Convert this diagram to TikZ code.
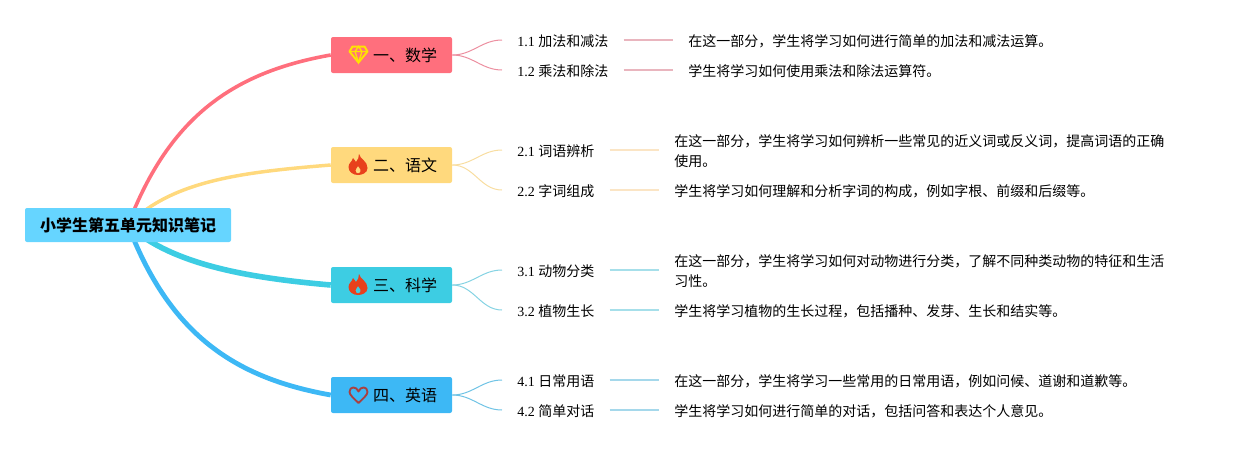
\documentclass[tikz,border=0pt]{standalone}
\usepackage{fontspec}
\usepackage{tikz}
\usetikzlibrary{backgrounds}
\setmainfont{Liberation Serif}
\newfontfamily\cjk{Noto Sans CJK SC}

\definecolor{redbox}{HTML}{FF6F7D}
\definecolor{yellowbox}{HTML}{FFD97D}
\definecolor{tealbox}{HTML}{3DCDE3}
\definecolor{bluebox}{HTML}{3DB8F5}
\definecolor{rootbox}{HTML}{66D5FF}
\definecolor{flamered}{HTML}{E8401C}
\definecolor{redtwig}{HTML}{EC8FA0}
\definecolor{yellowtwig}{HTML}{F8DDA0}
\definecolor{tealtwig}{HTML}{85D3E3}
\definecolor{bluetwig}{HTML}{6FC3E5}
\definecolor{redline}{HTML}{E9B5BE}
\definecolor{yellowline}{HTML}{FBE5C5}
\definecolor{tealline}{HTML}{A6DFEA}
\definecolor{blueline}{HTML}{A5D8EB}

\tikzset{
    rootnode/.style={fill=rootbox, rounded corners=1.5pt, minimum width=154.5pt, minimum height=25.5pt, inner sep=0pt, text height=11.3pt, text depth=1pt, font=\fontsize{12pt}{14pt}\cjk\bfseries},
    topic/.style={fill=#1, rounded corners=1.5pt, minimum width=90.75pt, minimum height=27pt, inner sep=0pt, text height=11.3pt, text depth=1pt, font=\fontsize{12pt}{14pt}\cjk},
    leaftwo/.style={anchor=west, inner xsep=11.25pt, inner ysep=0pt, font=\fontsize{10.5pt}{15pt}\selectfont, align=left},
    leaf/.style={leaftwo, text height=10.3pt, text depth=1pt},
    twig/.style={draw=#1, line width=0.75pt},
    rule line/.style={draw=#1, line width=1.5pt},
    gemicon/.pic={
        \draw[draw=#1, line width=1.5pt, line join=round] (-6,-8) -- (6,-8) -- (9,-3) -- (0,8) -- (-9,-3) -- cycle;
        \draw[draw=#1, line width=1pt] (-9,-3) -- (9,-3) (-3.5,-3) -- (0,8) -- (3.5,-3) (-3.5,-3) -- (0,-8) -- (3.5,-3);
    },
    flameicon/.pic={
        \fill[flamered, even odd rule] (1,-11) .. controls (2,-6) and (9.5,-4) .. (9.5,3) .. controls (9.5,8) and (4,10) .. (0,10) .. controls (-5,10) and (-9.5,7) .. (-9.5,2) .. controls (-9.5,-2) and (-6,-3) .. (-5,-7) .. controls (-3,-5) and (-3,-4) .. (-2,-3) .. controls (0,-5) and (1,-8) .. (1,-11)
            (0,8.5) .. controls (2,8.5) and (3,6.5) .. (2.5,4.5) .. controls (2,3.5) and (1,2.5) .. (0,1) .. controls (-1,3) and (-2.5,4) .. (-2.5,5.5) .. controls (-2.5,7) and (-1.5,8.5) .. (0,8.5);
    },
    hearticon/.pic={
        \draw[draw=#1, line width=1.4pt, line join=round] (0,8) .. controls (-4,4) and (-9,0) .. (-9,-3) .. controls (-9,-9) and (-2,-9) .. (0,-3.5) .. controls (2,-9) and (9,-9) .. (9,-3) .. controls (9,0) and (4,4) .. (0,8) -- cycle;
    },
}

\begin{document}
\begin{tikzpicture}[x=0.75pt, y=-0.75pt]
    \useasboundingbox (0,0) rectangle (1234,450);

    % root and topics
    \node[rootnode] (root) at (128,225) {小学生第五单元知识笔记};
    \node[topic=redbox] (math) at (391.5,55) {\hspace*{20.25pt}一、数学};
    \node[topic=yellowbox] (chinese) at (391.5,165) {\hspace*{20.25pt}二、语文};
    \node[topic=tealbox] (science) at (391.5,285) {\hspace*{20.25pt}三、科学};
    \node[topic=bluebox] (english) at (391.5,395) {\hspace*{20.25pt}四、英语};

    \pic at (358.5,54.5) {gemicon={yellow!85!orange}};
    \pic at (358,165) {flameicon};
    \pic at (358,285) {flameicon};
    \pic at (358.5,395) {hearticon={red!55!black!75}};

    % first topic
    \node[leaf] (m1) at (502,40) {1.1 {\cjk 加法和减法}};
    \node[leaf] (m2) at (502,70) {1.2 {\cjk 乘法和除法}};
    \node[leaf] (m1t) at (673,40) {\cjk 在这一部分，学生将学习如何进行简单的加法和减法运算。};
    \node[leaf] (m2t) at (673,70) {\cjk 学生将学习如何使用乘法和除法运算符。};

    % second topic
    \node[leaf] (c1) at (502,150) {2.1 {\cjk 词语辨析}};
    \node[leaf] (c2) at (502,190) {2.2 {\cjk 字词组成}};
    \node[leaftwo] (c1t) at (659,151.5) {\cjk 在这一部分，学生将学习如何辨析一些常见的近义词或反义词，提高词语的正确\\\cjk 使用。};
    \node[leaf] (c2t) at (659,190) {\cjk 学生将学习如何理解和分析字词的构成，例如字根、前缀和后缀等。};

    % third topic
    \node[leaf] (s1) at (502,270) {3.1 {\cjk 动物分类}};
    \node[leaf] (s2) at (502,310) {3.2 {\cjk 植物生长}};
    \node[leaftwo] (s1t) at (659,271.5) {\cjk 在这一部分，学生将学习如何对动物进行分类，了解不同种类动物的特征和生活\\\cjk 习性。};
    \node[leaf] (s2t) at (659,310) {\cjk 学生将学习植物的生长过程，包括播种、发芽、生长和结实等。};

    % fourth topic
    \node[leaf] (e1) at (502,380) {4.1 {\cjk 日常用语}};
    \node[leaf] (e2) at (502,410) {4.2 {\cjk 简单对话}};
    \node[leaf] (e1t) at (659,380) {\cjk 在这一部分，学生将学习一些常用的日常用语，例如问候、道谢和道歉等。};
    \node[leaf] (e2t) at (659,410) {\cjk 学生将学习如何进行简单的对话，包括问答和表达个人意见。};

    \begin{scope}[on background layer]
        \draw[redbox, line width=2.7pt] (root.center) .. controls (170,115) and (235,72) .. (math.west);
        \draw[yellowbox, line width=2.6pt] (root.center) .. controls (172,180) and (245,172) .. (chinese.west);
        \draw[tealbox, line width=4.2pt] (root.center) .. controls (172,265) and (250,278) .. (science.west);
        \draw[bluebox, line width=3.6pt] (root.center) .. controls (170,335) and (235,378) .. (english.west);
    \end{scope}

    \draw[twig=redtwig] (math.east) to[out=0, in=180] (m1.west);
    \draw[twig=redtwig] (math.east) to[out=0, in=180] (m2.west);
    \draw[twig=yellowtwig] (chinese.east) to[out=0, in=180] (c1.west);
    \draw[twig=yellowtwig] (chinese.east) to[out=0, in=180] (c2.west);
    \draw[twig=tealtwig] (science.east) to[out=0, in=180] (s1.west);
    \draw[twig=tealtwig] (science.east) to[out=0, in=180] (s2.west);
    \draw[twig=bluetwig] (english.east) to[out=0, in=180] (e1.west);
    \draw[twig=bluetwig] (english.east) to[out=0, in=180] (e2.west);

    \draw[rule line=redline] (m1.east) -- (m1t.west);
    \draw[rule line=redline] (m2.east) -- (m2t.west);
    \draw[rule line=yellowline] (c1.east) -- (c1.east -| c1t.west);
    \draw[rule line=yellowline] (c2.east) -- (c2t.west);
    \draw[rule line=tealline] (s1.east) -- (s1.east -| s1t.west);
    \draw[rule line=tealline] (s2.east) -- (s2t.west);
    \draw[rule line=blueline] (e1.east) -- (e1t.west);
    \draw[rule line=blueline] (e2.east) -- (e2t.west);
\end{tikzpicture}
\end{document}
